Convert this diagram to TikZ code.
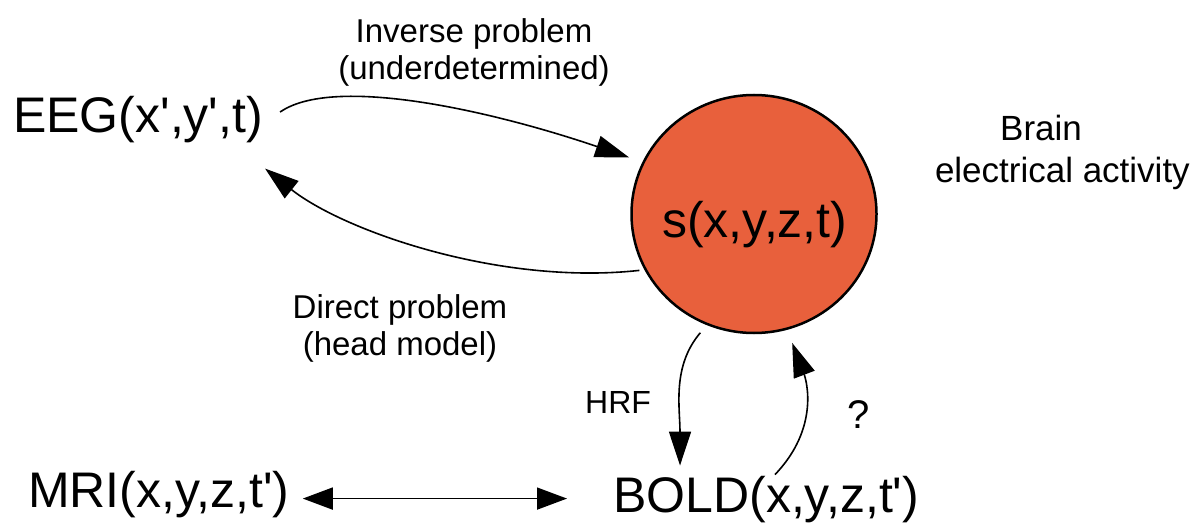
\documentclass[tikz,border=0pt]{standalone}
\usepackage{fontspec}
\setmainfont{Liberation Sans}
\usetikzlibrary{arrows.meta,shapes.geometric}
\definecolor{brainred}{RGB}{232,96,60}
\newcommand{\apos}{\textquotesingle}
\begin{document}
\begin{tikzpicture}[x=1pt,y=-1pt,
  big/.style={inner sep=0pt, font=\fontsize{50}{60}\selectfont},
  small/.style={inner sep=0pt, font=\fontsize{33}{37}\selectfont, align=center},
  arr/.style={line width=1.6pt, -{Triangle[length=34pt,width=22pt]}},
  darr/.style={line width=1.6pt, {Triangle[length=30pt,width=22pt]}-{Triangle[length=30pt,width=22pt]}},
]
\useasboundingbox (0,0) rectangle (1199,532);
% source node
\node[ellipse, draw, line width=2.5pt, fill=brainred, minimum width=245pt, minimum height=238pt, inner sep=0pt] (s) at (754,214) {};
\node[big, anchor=base west] (stext) at (662,237) {s(x,y,z,t)};
% text nodes
\node[big, anchor=base west] (eeg) at (13,132) {EEG(x\apos,y\apos,t)};
\node[big, anchor=base west] (mri) at (28,507) {MRI(x,y,z,t\apos)};
\node[big, anchor=base west] (bold) at (613,512) {BOLD(x,y,z,t\apos)};
\node[small, anchor=north] (inv) at (474,18) {Inverse problem\\(underdetermined)};
\node[small, anchor=north] (dir) at (400,294) {Direct problem\\(head model)};
\node[inner sep=0pt, font=\fontsize{35}{40}\selectfont, anchor=base west] (brain) at (1000,140) {Brain};
\node[inner sep=0pt, font=\fontsize{35}{40}\selectfont, anchor=base east] (elec) at (1190,182) {electrical activity};
\node[inner sep=0pt, font=\fontsize{32}{36}\selectfont, anchor=base west] (hrf) at (585,413) {HRF};
\node[inner sep=0pt, font=\fontsize{40}{44}\selectfont, anchor=base west] (q) at (847,428) {?};
% connectors
\draw[arr, shorten >=14pt] ([shift={(17,-7)}]eeg.east) .. controls +(53,-37) and +(-153,-52) .. (s.155);
\draw[arr, shorten <=5pt] (s.207) .. controls +(-145,16) and +(78,62) .. ([shift={(2,26)}]eeg.south east);
\draw[arr, shorten <=10pt] (s.247) .. controls +(-35,41) and +(0,-58) .. ([shift={(67,-10)}]bold.north west);
\draw[arr, shorten >=14pt] ([shift={(162,-1)}]bold.north west) .. controls +(45,-47) and +(19,50) .. (s.286);
\coordinate (mr) at ([shift={(13,4.5)}]mri.east);
\draw[darr] (mr) -- ([xshift=-46pt]bold.west |- mr);
\end{tikzpicture}
\end{document}
